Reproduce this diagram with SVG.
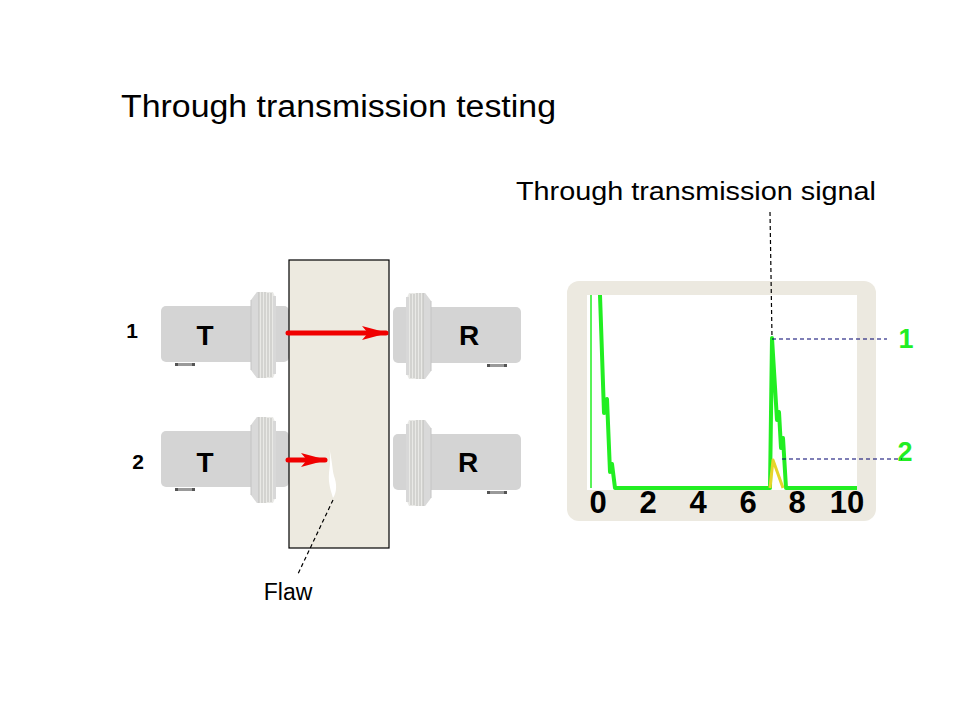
<svg xmlns="http://www.w3.org/2000/svg" xmlns:xlink="http://www.w3.org/1999/xlink" width="960" height="720" viewBox="0 0 960 720">
<style>
.txt{font-family:"Liberation Sans",Arial,sans-serif;fill:#000}
.big{font-size:28px;font-weight:bold}
.num{font-family:"Liberation Sans",Arial,sans-serif;font-weight:bold;font-size:31px;fill:#000;text-anchor:middle}
.glab{font-family:"Liberation Sans",Arial,sans-serif;font-weight:bold;font-size:27px;fill:#22EE22;text-anchor:middle}
.lab{font-family:"Liberation Sans",Arial,sans-serif;font-weight:bold;font-size:21px;fill:#000;text-anchor:middle}
.ray{stroke:#F00000;stroke-width:5;stroke-linecap:round;fill:none}
.dash{fill:none;stroke-width:1.2;stroke-dasharray:4 3}
.trace{fill:none;stroke:#22EE22;stroke-width:4;stroke-linejoin:round}
</style>
<defs>
<marker id="ah" markerUnits="userSpaceOnUse" markerWidth="26" markerHeight="14" viewBox="0 0 26 14" refX="24" refY="7" orient="auto">
<path d="M0,0 L26,7 L0,14 L6,7 Z" fill="#F00000"/>
</marker>
<g id="probe">
<rect x="0" y="14" width="128" height="56" rx="5" fill="#D4D4D4"/>
<path d="M96,0 L112,0 L115,7 L115,79 L112,86 L96,86 L90,78 L90,8 Z" fill="#E9E9E6"/>
<path d="M96,0 L98,0 L98,86 L96,86 L90,78 L90,8 Z" fill="#D9D9D9"/>
<path d="M90,8 L90,78" stroke="#C4C4C4" stroke-width="1"/>
<path d="M98,0 V86 M101,0 V86 M104,0 V86 M107,1 V85 M110,1 V85" stroke="#BDBDBA" stroke-width="1"/>
<rect x="112" y="4" width="3" height="78" fill="#D8D8D8"/>
<rect x="14" y="71" width="20" height="3" fill="#9A9A9A"/>
<rect x="14" y="71" width="3" height="3" fill="#555"/>
<rect x="31" y="71" width="3" height="3" fill="#555"/>
</g>
</defs>
<rect width="960" height="720" fill="#FFFFFF"/>

<text class="txt" x="121" y="117" font-size="31" textLength="435" lengthAdjust="spacingAndGlyphs">Through transmission testing</text>

<g id="T1">
<use xlink:href="#probe" transform="translate(161,292)"/>
<text class="txt big" x="205" y="345" text-anchor="middle">T</text>
</g>
<g id="T2">
<use xlink:href="#probe" transform="translate(161,417)"/>
<text class="txt big" x="205" y="472" text-anchor="middle">T</text>
</g>
<g id="R1">
<use xlink:href="#probe" transform="translate(521,293) scale(-1,1)"/>
<text class="txt big" x="469" y="345" text-anchor="middle">R</text>
</g>
<g id="R2">
<use xlink:href="#probe" transform="translate(521,420) scale(-1,1)"/>
<text class="txt big" x="468" y="472" text-anchor="middle">R</text>
</g>

<g id="specimen">
<rect x="289" y="260" width="100" height="288" fill="#EDEAE0" stroke="#000" stroke-width="1.2"/>
</g>

<g id="flaw">
<path d="M329,448 C331,456 330,465 329,473 C328,483 331,491 333,498 C337,492 337,484 334,476 C332,468 332,458 329,448 Z" fill="#FFFFFF"/>
</g>

<g id="row-labels">
<text class="lab" x="132" y="338">1</text>
<text class="lab" x="138" y="469">2</text>
</g>

<g id="flaw-label">
<text class="txt" x="288" y="600" font-size="23" text-anchor="middle">Flaw</text>
</g>

<g id="scope">
<rect x="567" y="281" width="309" height="240" rx="12" fill="#ECE9E0"/>
<rect x="587" y="295" width="270" height="195" fill="#FFFFFF"/>
<line x1="591" y1="295" x2="591" y2="488" stroke="#22EE22" stroke-width="1.5"/>
<polyline class="trace" points="600,295 604,413 607,399 610,472 612,464 615,488 770,488 772,338 777,420 779,412 781,448 783,438 786,488 857,488"/>
<polyline points="770,488 773,460 783,488" fill="none" stroke="#E6D52A" stroke-width="3" stroke-linejoin="round"/>
<text class="num" x="598" y="513">0</text>
<text class="num" x="648" y="513">2</text>
<text class="num" x="698" y="513">4</text>
<text class="num" x="748" y="513">6</text>
<text class="num" x="797" y="513">8</text>
<text class="num" x="847" y="513">10</text>
</g>

<g id="signal-label">
<text class="txt" x="516" y="200" font-size="26" textLength="360" lengthAdjust="spacingAndGlyphs">Through transmission signal</text>
</g>

<g id="peak-labels">
<text class="glab" x="906" y="348">1</text>
<text class="glab" x="905" y="461">2</text>
</g>

<g id="connectors">
<line class="ray" x1="288" y1="333" x2="386" y2="333" marker-end="url(#ah)"/>
<line class="ray" x1="288" y1="460" x2="325" y2="460" marker-end="url(#ah)"/>
<path class="dash" d="M333,500 L297,576" stroke="#000"/>
<path class="dash" d="M770,212 L772,338" stroke="#000"/>
<path class="dash" d="M772,339 H887" stroke="#00006E"/>
<path class="dash" d="M782,459 H902" stroke="#00006E"/>
</g>
</svg>
